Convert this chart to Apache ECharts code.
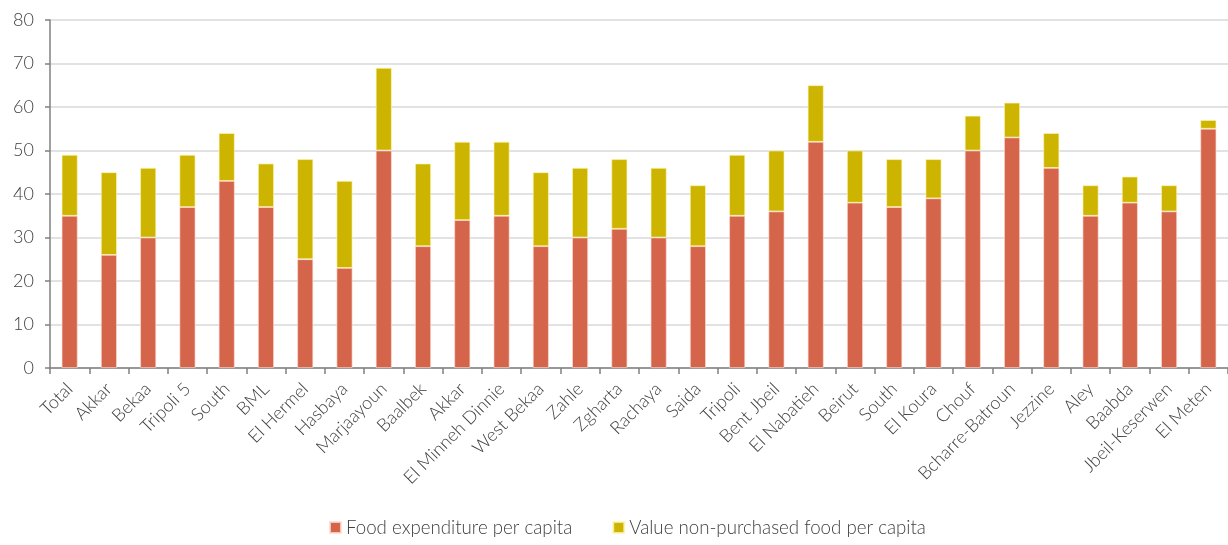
<!DOCTYPE html>
<html><head><meta charset="utf-8">
<script src="https://cdn.jsdelivr.net/npm/echarts@6/dist/echarts.min.js"></script>
<style>html,body{margin:0;padding:0;background:#fff}#c{width:1228px;height:545px}</style>
</head><body><div id="c"></div>
<script>
const categories = ["Total","Akkar","Bekaa","Tripoli 5","South","BML","El Hermel","Hasbaya","Marjaayoun","Baalbek","Akkar","El Minneh Dinnie","West Bekaa","Zahle","Zgharta","Rachaya","Saida","Tripoli","Bent Jbeil","El Nabatieh","Beirut","South","El Koura","Chouf","Bcharre-Batroun","Jezzine","Aley","Baabda","Jbeil-Keserwen","El Meten"];
const foodExpenditure = [35,26,30,37,43,37,25,23,50,28,34,35,28,30,32,30,28,35,36,52,38,37,39,50,53,46,35,38,36,55];
const nonPurchased = [14,19,16,12,11,10,23,20,19,19,18,17,17,16,16,16,14,14,14,13,12,11,9,8,8,8,7,6,6,2];
const seriesNames = ["Food expenditure per capita","Value non-purchased food per capita"];
const yTicks = {min:0,max:80,interval:10};

const font = 'Lato';
const chart = echarts.init(document.getElementById('c'));
chart.setOption({
  animation:false,
  textStyle:{fontFamily:font},
  grid:{left:50,right:0,top:20,bottom:177,containLabel:false},
  legend:{
    bottom:3,left:324,itemWidth:11,itemHeight:11,itemGap:40,icon:'rect',
    textStyle:{fontFamily:font,fontSize:18.7,color:'#404040',fontWeight:300},
    data:seriesNames
  },
  xAxis:{
    type:'category',data:categories,
    axisLine:{lineStyle:{color:'#808080',width:1.5}},
    axisTick:{show:true,alignWithLabel:false,length:6,lineStyle:{color:'#808080',width:1.5}},
    axisLabel:{rotate:45,interval:0,fontSize:18,color:'#404040',fontFamily:font,fontWeight:300,margin:18}
  },
  yAxis:{
    type:'value',min:yTicks.min,max:yTicks.max,interval:yTicks.interval,
    axisLine:{show:true,lineStyle:{color:'#808080',width:1.5}},
    axisTick:{show:true,length:5,lineStyle:{color:'#808080',width:1.5}},
    axisLabel:{fontSize:18,color:'#404040',fontFamily:font,fontWeight:300,margin:16},
    splitLine:{lineStyle:{color:'#d9d9d9',width:1.5}}
  },
  series:[
    {name:seriesNames[0],type:'bar',stack:'a',data:foodExpenditure,barWidth:16,
     itemStyle:{color:'#D4654B',borderColor:'rgba(255,220,210,0.8)',borderWidth:0.8}},
    {name:seriesNames[1],type:'bar',stack:'a',data:nonPurchased,barWidth:16,
     itemStyle:{color:'#CCB400',borderColor:'rgba(255,245,180,0.8)',borderWidth:0.8}}
  ]
});
</script></body></html>
